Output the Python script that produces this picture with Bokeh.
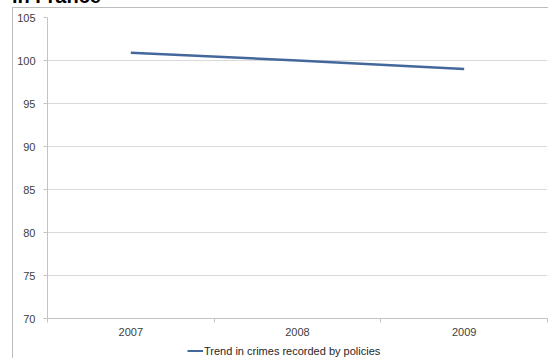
from bokeh.plotting import figure
from bokeh.models import FixedTicker, Range1d, Legend, LegendItem, Div
from bokeh.layouts import column
from bokeh.embed import file_html
from bokeh.resources import INLINE

title_text = "in France"
years = ["2007", "2008", "2009"]
values = [100.9, 100.0, 99.0]
y_ticks = [70, 75, 80, 85, 90, 95, 100, 105]
series_name = "Trend in crimes recorded by policies"

xs = [i + 0.5 for i in range(len(years))]

FONT = "Liberation Sans"
LABEL_COLOR = "#404040"
AXIS_COLOR = "#c4c4c4"
GRID_COLOR = "#dadada"
LINE_COLOR = "#44689b"

# clipped title (only its lower part shows, as in the reference)
title_div = Div(
    text=(f'<div style="font-family:\'{FONT}\'; font-weight:bold; font-size:20px; '
          f'line-height:7px; height:7px; position:relative; top:-9px; left:12px; '
          f'white-space:nowrap; color:#000;">{title_text}</div>'),
    width=548, height=7,
    styles={"overflow": "hidden", "height": "7px", "min-height": "0px",
            "padding": "0px", "margin": "0px"})

p = figure(width=535, height=334, output_backend="svg", toolbar_location=None,
           x_range=Range1d(0, len(years)), y_range=Range1d(y_ticks[0], y_ticks[-1]),
           min_border_left=34, min_border_right=1, min_border_top=9, min_border_bottom=24)
p.outline_line_color = None
p.background_fill_color = "white"
p.border_fill_color = "white"

p.xgrid.visible = False
p.ygrid.grid_line_color = GRID_COLOR
p.ygrid.grid_line_width = 1

xa = p.xaxis[0]
xa.ticker = FixedTicker(ticks=xs, minor_ticks=list(range(len(years) + 1)))
xa.major_label_overrides = {x: y for x, y in zip(xs, years)}
xa.major_tick_out = 0
xa.major_tick_in = 0
xa.minor_tick_out = 4
xa.minor_tick_in = 0
xa.minor_tick_line_color = AXIS_COLOR
xa.axis_line_color = AXIS_COLOR
xa.major_label_standoff = 5
xa.major_label_text_font = FONT
xa.major_label_text_font_size = "11px"
xa.major_label_text_color = LABEL_COLOR

ya = p.yaxis[0]
ya.ticker = FixedTicker(ticks=y_ticks)
ya.major_tick_out = 4
ya.major_tick_in = 0
ya.major_tick_line_color = AXIS_COLOR
ya.minor_tick_line_color = None
ya.axis_line_color = AXIS_COLOR
ya.major_label_standoff = 8
ya.major_label_text_font = FONT
ya.major_label_text_font_size = "11px"
ya.major_label_text_color = LABEL_COLOR

p.line(xs, values, line_color=LINE_COLOR, line_width=2.5)

# legend strip below the chart (its own line renderer sits outside the visible range,
# so only the legend swatch and label are drawn)
p2 = figure(width=535, height=16, output_backend="svg", toolbar_location=None,
            x_axis_location=None, y_axis_location=None, min_border=0,
            x_range=Range1d(-10, -9), y_range=Range1d(0, 1))
p2.outline_line_color = None
p2.grid.visible = False
lr = p2.line(xs, values, line_color=LINE_COLOR, line_width=2)
legend = Legend(items=[LegendItem(label=series_name, renderers=[lr])],
                location=(140, 1), orientation="horizontal",
                border_line_color=None, background_fill_alpha=0,
                padding=0, margin=0, spacing=0,
                label_text_font=FONT, label_text_font_size="11px",
                label_text_color="#262626",
                glyph_width=16, glyph_height=13, label_height=13,
                label_standoff=1)
p2.add_layout(legend, "center")

chart = column(p, p2, spacing=0,
               styles={"margin-left": "12px", "border-left": "1px solid #bcbcbc",
                       "border-top": "1px solid #bcbcbc"})
page = column(title_div, chart, spacing=0)

open("out.html", "w").write(file_html(page, INLINE))
